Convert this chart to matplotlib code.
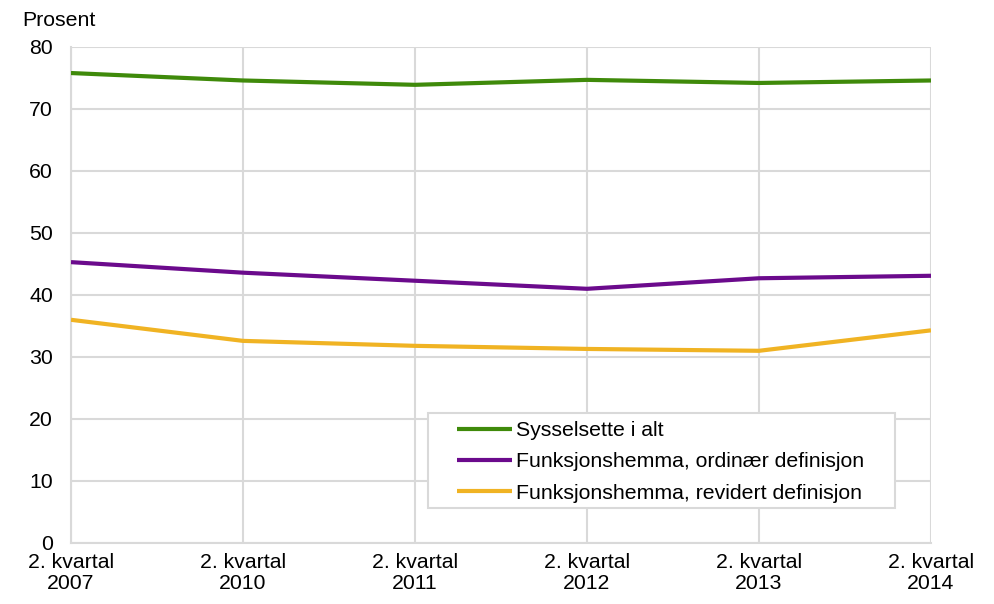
import matplotlib
matplotlib.use("Agg")
import matplotlib.pyplot as plt
from matplotlib.patches import Rectangle

plt.rcParams["font.family"] = ["Liberation Sans", "DejaVu Sans"]

periods = ["2. kvartal\n2007", "2. kvartal\n2010", "2. kvartal\n2011",
           "2. kvartal\n2012", "2. kvartal\n2013", "2. kvartal\n2014"]
sysselsette = [75.8, 74.6, 73.9, 74.7, 74.2, 74.6]
ordinaer = [45.3, 43.6, 42.3, 41.0, 42.7, 43.1]
revidert = [36.0, 32.6, 31.8, 31.3, 31.0, 34.3]

series = [
    ("Sysselsette i alt", sysselsette, "#3f8a0a"),
    ("Funksjonshemma, ordinær definisjon", ordinaer, "#6b0a8c"),
    ("Funksjonshemma, revidert definisjon", revidert, "#f0b323"),
]

W, H = 995, 604
fig = plt.figure(figsize=(W / 100, H / 100), dpi=100)
ax = fig.add_axes([71 / W, 1 - 543 / H, 860 / W, 496 / H])

x = list(range(len(periods)))
for label, vals, color in series:
    ax.plot(x, vals, color=color, linewidth=3, label=label, solid_capstyle="butt", zorder=3)

grid_c = "#d9d9d9"
fs = 15.3
ax.set_xlim(0, len(periods) - 1)
ax.set_ylim(0, 80)
ax.set_yticks(range(0, 81, 10))
ax.set_xticks(x)
ax.set_xticklabels(periods, linespacing=1.1)
ax.grid(True, color=grid_c, linewidth=1.5, zorder=0)
for side in ["top", "right"]:
    ax.spines[side].set_visible(False)
for side in ["left", "bottom"]:
    ax.spines[side].set_color(grid_c)
    ax.spines[side].set_linewidth(1.5)
ax.tick_params(length=0, labelsize=fs, colors="#000000", pad=7.5)
ax.tick_params(axis="y", pad=13)

fig.text(22 / W, 1 - 20 / H, "Prosent", fontsize=fs, va="center", ha="left")

# legend frame drawn separately so the inner spacing matches the original
frame = Rectangle((428 / W, 1 - 508 / H), 467 / W, 95 / H,
                  transform=fig.transFigure, facecolor="white",
                  edgecolor=grid_c, linewidth=1.5, zorder=4, clip_on=False)
ax.add_patch(frame)
leg = ax.legend(loc="upper left", bbox_to_anchor=(457 / W, 1 - 421 / H),
                bbox_transform=fig.transFigure, fontsize=fs, frameon=False,
                borderaxespad=0, borderpad=0, handlelength=2.6, handletextpad=0.2,
                labelspacing=0.58)
leg.set_zorder(5)

fig.savefig("out.png", dpi=100)
